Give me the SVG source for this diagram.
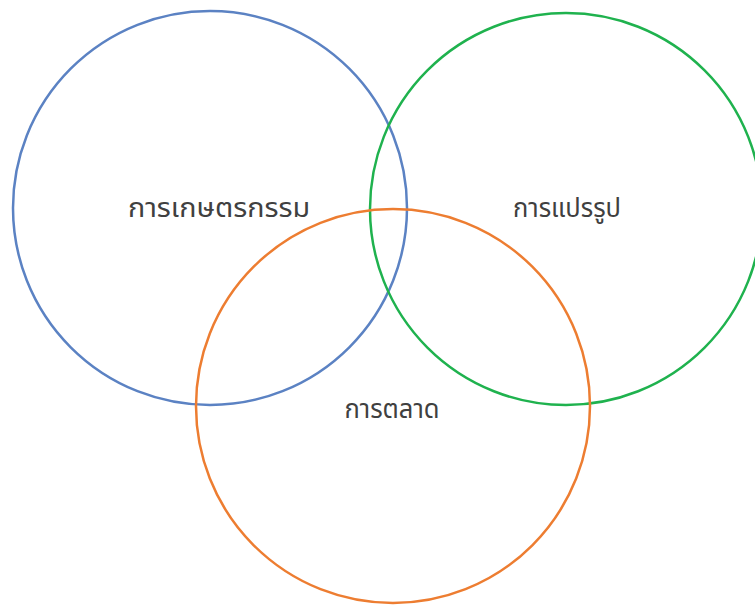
<svg xmlns="http://www.w3.org/2000/svg" width="755" height="607" viewBox="0 0 755 607">
<style>
.c{fill:none;stroke-width:2.5}
.t{font-family:"Noto Sans Thai","Noto Sans","DejaVu Sans",sans-serif;font-size:26px;fill:#404040;text-anchor:middle}
</style>
<rect width="755" height="607" fill="#ffffff"/>
<g id="agri"><circle class="c" cx="210" cy="208" r="197" stroke="#5B82C3"/><text class="t" x="219" y="217" textLength="182" lengthAdjust="spacingAndGlyphs">การเกษตรกรรม</text></g>
<g id="proc"><circle class="c" cx="566" cy="209" r="196" stroke="#1FB24E"/><text class="t" x="567" y="217" textLength="108" lengthAdjust="spacingAndGlyphs">การแปรรูป</text></g>
<g id="mkt"><circle class="c" cx="393" cy="406" r="197" stroke="#ED7D31"/><text class="t" x="392" y="418" textLength="95" lengthAdjust="spacingAndGlyphs">การตลาด</text></g>
<g id="connectors"/>
</svg>
